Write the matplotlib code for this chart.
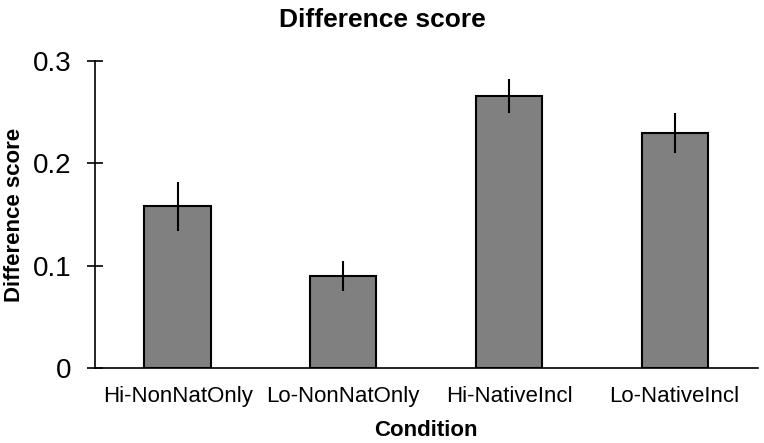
import matplotlib
matplotlib.use("Agg")
import matplotlib.pyplot as plt

categories = ["Hi-NonNatOnly", "Lo-NonNatOnly", "Hi-NativeIncl", "Lo-NativeIncl"]
values = [0.158, 0.090, 0.266, 0.230]
errors = [0.024, 0.0145, 0.0165, 0.0195]
yticks = [0, 0.1, 0.2, 0.3]
ytick_labels = ["0", "0.1", "0.2", "0.3"]

plt.rcParams['font.family'] = ['Liberation Sans', 'DejaVu Sans']

fig = plt.figure(figsize=(7.64, 4.43), dpi=100)
ax = fig.add_axes([0.124, 0.1686, 0.8675, 0.6937])

x = range(len(categories))
ax.bar(x, values, width=0.4, color="#808080", edgecolor="black", linewidth=1.5, zorder=2)
ax.errorbar(x, values, yerr=errors, fmt="none", ecolor="black", elinewidth=1.5, capsize=0, zorder=3)

ax.set_xlim(-0.5, 3.5)
ax.set_ylim(0, 0.3)
ax.set_yticks(yticks)
ax.set_yticklabels(ytick_labels, fontsize=20)
ax.set_xticks(list(x))
ax.set_xticklabels(categories, fontsize=16)
ax.tick_params(axis="x", length=0, pad=13)
ax.tick_params(axis="y", direction="inout", length=11.5, width=1.2, pad=11)

for s in ["top", "right"]:
    ax.spines[s].set_visible(False)
ax.spines["left"].set_linewidth(1.2)
ax.spines["bottom"].set_linewidth(1.2)

ax.set_xlabel("Condition", fontsize=16, fontweight="bold", labelpad=9)
ax.set_ylabel("Difference score", fontsize=16, fontweight="bold", labelpad=6)
fig.text(0.5, 1 - 26.7 / 443, "Difference score", fontsize=19, fontweight="bold",
         ha="center", va="baseline")

fig.savefig("out.png", dpi=100)
